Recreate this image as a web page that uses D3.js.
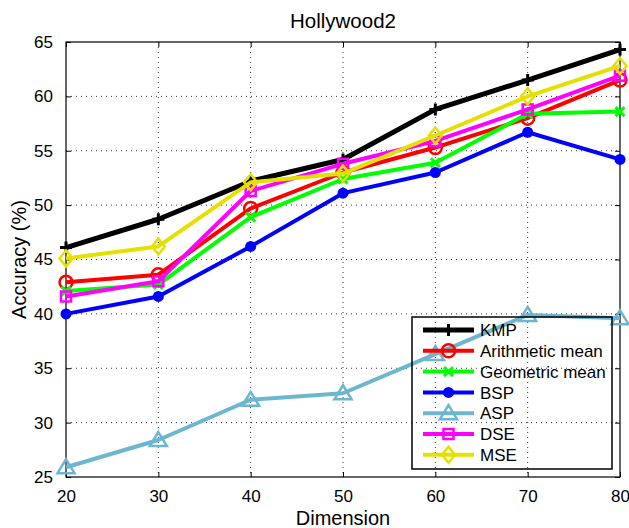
<!DOCTYPE html>
<meta charset="utf-8">
<style>
body { margin: 0; background: #fff; }
text { font-family: "Liberation Sans", Arial, sans-serif; fill: #000; }
.grid line { stroke: #000; stroke-dasharray: 1,4; stroke-width: 0.8; }
</style>
<body>
<svg width="629" height="528"></svg>
<script src="https://d3js.org/d3.v7.min.js"></script>
<script>

var dims = [20, 30, 40, 50, 60, 70, 80];
var yTicks = [25, 30, 35, 40, 45, 50, 55, 60, 65];

var kmp        = [46.1, 48.7, 52.2, 54.2, 58.8, 61.5, 64.3];
var arithmetic = [42.9, 43.6, 49.7, 53.0, 55.3, 58.0, 61.5];
var geometric  = [42.1, 42.7, 48.9, 52.4, 53.9, 58.4, 58.6];
var bsp        = [40.0, 41.6, 46.2, 51.1, 53.0, 56.7, 54.2];
var asp        = [25.9, 28.4, 32.1, 32.7, 36.3, 39.9, 39.6];
var dse        = [41.6, 43.0, 51.3, 53.8, 55.9, 58.8, 61.9];
var mse        = [45.1, 46.2, 52.1, 52.9, 56.4, 60.0, 62.8];

var series = [
  {name: "KMP", values: kmp, color: "#000000", marker: "plus", width: 5},
  {name: "Arithmetic mean", values: arithmetic, color: "#ff0000", marker: "circle", width: 4},
  {name: "Geometric mean", values: geometric, color: "#00ff00", marker: "cross", width: 4},
  {name: "BSP", values: bsp, color: "#0000ff", marker: "dot", width: 4},
  {name: "ASP", values: asp, color: "#6cb6cf", marker: "triangle", width: 4},
  {name: "DSE", values: dse, color: "#ff00ff", marker: "square", width: 4},
  {name: "MSE", values: mse, color: "#e5e000", marker: "diamond", width: 4}
];

var svg = d3.select("svg"),
    margin = {top: 42, right: 9, bottom: 51, left: 66},
    width = +svg.attr("width") - margin.left - margin.right,
    height = +svg.attr("height") - margin.top - margin.bottom;

var x = d3.scaleLinear().domain([20, 80]).range([0, width]);
var y = d3.scaleLinear().domain([25, 65]).range([height, 0]);

var g = svg.append("g").attr("transform", "translate(" + margin.left + "," + margin.top + ")");

// dotted grid
var grid = g.append("g").attr("class", "grid");
grid.selectAll(".gx").data(dims.slice(1, -1)).enter().append("line")
    .attr("x1", function(d) { return x(d); }).attr("x2", function(d) { return x(d); })
    .attr("y1", 0).attr("y2", height);
grid.selectAll(".gy").data(yTicks.slice(1, -1)).enter().append("line")
    .attr("x1", 0).attr("x2", width)
    .attr("y1", function(d) { return y(d); }).attr("y2", function(d) { return y(d); });

// axes, ticks inward on all sides
g.append("g").attr("transform", "translate(0," + height + ")")
    .call(d3.axisBottom(x).tickValues(dims).tickSizeInner(-5).tickSizeOuter(0).tickPadding(13))
    .call(function(a) { a.selectAll("text").attr("font-size", 17); a.select(".domain").remove(); });
g.append("g")
    .call(d3.axisTop(x).tickValues(dims).tickSizeInner(-5).tickSizeOuter(0).tickFormat(""))
    .call(function(a) { a.select(".domain").remove(); });
g.append("g")
    .call(d3.axisLeft(y).tickValues(yTicks).tickSizeInner(-5).tickSizeOuter(0).tickPadding(13))
    .call(function(a) { a.selectAll("text").attr("font-size", 17); a.select(".domain").remove(); });
g.append("g").attr("transform", "translate(" + width + ",0)")
    .call(d3.axisRight(y).tickValues(yTicks).tickSizeInner(-5).tickSizeOuter(0).tickFormat(""))
    .call(function(a) { a.select(".domain").remove(); });
g.selectAll(".tick line").attr("stroke", "#000");

g.append("rect").attr("width", width).attr("height", height)
    .attr("fill", "none").attr("stroke", "#000").attr("stroke-width", 1.2);

// markers
function drawMarker(sel, type, color, cx, cy) {
  if (type === "plus") {
    sel.append("path").attr("d", "M" + (cx - 6) + "," + cy + "H" + (cx + 6) + "M" + cx + "," + (cy - 6) + "V" + (cy + 6))
        .attr("stroke", color).attr("stroke-width", 3).attr("fill", "none");
  } else if (type === "cross") {
    sel.append("path").attr("d", "M" + (cx - 4.5) + "," + (cy - 4.5) + "L" + (cx + 4.5) + "," + (cy + 4.5) + "M" + (cx - 4.5) + "," + (cy + 4.5) + "L" + (cx + 4.5) + "," + (cy - 4.5))
        .attr("stroke", color).attr("stroke-width", 3).attr("fill", "none");
  } else if (type === "circle") {
    sel.append("circle").attr("cx", cx).attr("cy", cy).attr("r", 6.5)
        .attr("fill", "none").attr("stroke", color).attr("stroke-width", 2.5);
  } else if (type === "dot") {
    sel.append("circle").attr("cx", cx).attr("cy", cy).attr("r", 5.5).attr("fill", color);
  } else if (type === "triangle") {
    sel.append("path").attr("d", "M" + cx + "," + (cy - 8) + "L" + (cx + 8.5) + "," + (cy + 6) + "L" + (cx - 8.5) + "," + (cy + 6) + "Z")
        .attr("fill", "none").attr("stroke", color).attr("stroke-width", 2.5);
  } else if (type === "square") {
    sel.append("rect").attr("x", cx - 5).attr("y", cy - 5).attr("width", 10).attr("height", 10)
        .attr("fill", "none").attr("stroke", color).attr("stroke-width", 2.5);
  } else if (type === "diamond") {
    sel.append("path").attr("d", "M" + cx + "," + (cy - 8) + "L" + (cx + 6.5) + "," + cy + "L" + cx + "," + (cy + 8) + "L" + (cx - 6.5) + "," + cy + "Z")
        .attr("fill", "none").attr("stroke", color).attr("stroke-width", 2.5);
  }
}

// legend box (transparent, drawn beneath the lines)
var lg = svg.append("g").attr("transform", "translate(412,317)");
lg.append("rect").attr("width", 200).attr("height", 152)
    .attr("fill", "none").attr("stroke", "#000").attr("stroke-width", 1.5);

var line = d3.line().x(function(d, i) { return x(dims[i]); }).y(function(d) { return y(d); });

series.forEach(function(s) {
  var sg = g.append("g");
  sg.append("path").datum(s.values).attr("d", line)
      .attr("fill", "none").attr("stroke", s.color).attr("stroke-width", s.width)
      .attr("stroke-linejoin", "round");
  s.values.forEach(function(v, i) { drawMarker(sg, s.marker, s.color, x(dims[i]), y(v)); });
});

var lgItems = svg.append("g").attr("transform", "translate(412,317)");
series.forEach(function(s, i) {
  var ly = 13 + i * 20.8;
  lgItems.append("line").attr("x1", 11).attr("x2", 62).attr("y1", ly).attr("y2", ly)
      .attr("stroke", s.color).attr("stroke-width", s.width);
  drawMarker(lgItems, s.marker, s.color, 36.5, ly);
  lgItems.append("text").attr("x", 68).attr("y", ly).attr("dy", "0.36em")
      .attr("font-size", 17).text(s.name);
});

// titles
svg.append("text").attr("x", margin.left + width / 2).attr("y", 28)
    .attr("text-anchor", "middle").attr("font-size", 20.5).text("Hollywood2");
svg.append("text").attr("x", margin.left + width / 2).attr("y", 525)
    .attr("text-anchor", "middle").attr("font-size", 20).text("Dimension");
svg.append("text").attr("transform", "translate(26," + (margin.top + height / 2) + ") rotate(-90)")
    .attr("text-anchor", "middle").attr("font-size", 20).text("Accuracy (%)");

</script>
</body>
